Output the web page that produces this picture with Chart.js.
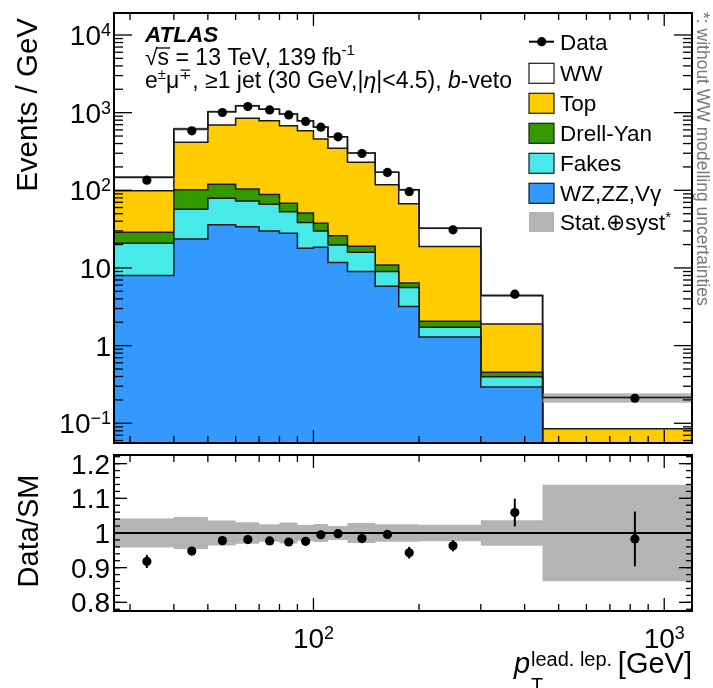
<!DOCTYPE html>
<html>
<head>
<meta charset="utf-8">
<script src="https://cdn.jsdelivr.net/npm/chart.js@4.4.1/dist/chart.umd.min.js"></script>
<style>
body { margin: 0; background: #fff; }
#wrap { position: relative; width: 713px; height: 688px; overflow: hidden; }
canvas { position: absolute; left: 0; }
#main { top: 0; }
#ratio { top: 450px; }
</style>
</head>
<body>
<div id="wrap">
<canvas id="main" width="713" height="450"></canvas>
<canvas id="ratio" width="713" height="238"></canvas>
</div>
<script>
// leading lepton pT bins [GeV]
var edges = [27, 40, 50, 60, 70, 80, 90, 100, 110, 125, 150, 175, 200, 300, 450, 1200];

// events / GeV, one entry per bin
var wzzzVg   = [8.0, 23.6, 36, 34, 30, 28, 18, 18.5, 11.8, 9.0, 5.8, 3.2, 1.29, 0.294, 0.02];
var fakes    = [12.8, 33.4, 43, 39, 36, 25, 20.5, 11.5, 8.0, 6.9, 3.2, 2.4, 0.44, 0.104, 0.01];
var drellYan = [8.0, 45, 41, 31, 22, 15, 12.5, 7.6, 6.2, 3.1, 1.9, 0.8, 0.33, 0.056, 0.005];
var topBkg   = [70, 313, 573, 742, 699, 610, 534, 420, 321, 210, 107, 60.6, 16.9, 1.45, 0.05];
var ww       = [48, 200, 335, 382, 323, 281, 202, 197, 143, 73, 53, 35, 13.4, 2.5, 0.129];
var dataEv   = [135, 583, 1005, 1200, 1085, 935, 770, 650, 488, 298, 170, 96, 31, 4.6, 0.21];

// stat+syst (no WW modelling), relative
var uncRel = [0.042, 0.046, 0.036, 0.031, 0.025, 0.03, 0.023, 0.026, 0.02, 0.029, 0.025, 0.025, 0.024, 0.037, 0.139];

// ratio panel
var ratio    = [0.918, 0.948, 0.978, 0.981, 0.977, 0.974, 0.976, 0.995, 0.998, 0.984, 0.996, 0.943, 0.963, 1.059, 0.983];
var ratioErr = [0.019, 0.008, 0.006, 0.006, 0.006, 0.006, 0.007, 0.007, 0.008, 0.009, 0.011, 0.017, 0.016, 0.04, 0.079];

// tick labels
var yTickVals = [10000, 1000, 100, 10, 1, 0.1];
var yTickBase = ['10', '10', '10', '10', '1', '10'];
var yTickSup  = ['4', '3', '2', '', '', '\u22121'];
var rTickVals = [1.2, 1.1, 1, 0.9, 0.8];
var rTickText = ['1.2', '1.1', '1', '0.9', '0.8'];
var xTickVals = [100, 1000];
var xTickSup  = ['2', '3'];
var xMinorVals = [30, 40, 50, 60, 70, 80, 90, 200, 300, 400, 500, 600, 700, 800, 900];

var cYellow = '#ffcc00', cGreen = '#339900', cCyan = '#48e9e9', cBlue = '#3399ff';
var FONT = '"Liberation Sans", Arial, Helvetica, sans-serif';
function font(size, style) { return (style || '') + ' ' + size + 'px ' + FONT; }

function addLists(a, b) { return a.map(function (v, i) { return v + b[i]; }); }
var sBlue = wzzzVg.slice();
var sCyan = addLists(sBlue, fakes);
var sGreen = addLists(sCyan, drellYan);
var sYellow = addLists(sGreen, topBkg);
var sTotal = addLists(sYellow, ww);

function hist(vals) {
  var pts = vals.map(function (v, i) { return { x: edges[i], y: v }; });
  pts.push({ x: edges[edges.length - 1], y: vals[vals.length - 1] });
  return pts;
}
function centers(vals) {
  return vals.map(function (v, i) { return { x: (edges[i] + edges[i + 1]) / 2, y: v }; });
}

function stackSet(vals, color, order) {
  return { data: hist(vals), stepped: true, fill: 'start', backgroundColor: color,
           borderColor: '#1a1a1a', borderWidth: 1.5, pointRadius: 0, order: order };
}

function drawPieces(ctx, x, y, pieces) {
  pieces.forEach(function (p) {
    ctx.font = font(p.size, p.style);
    ctx.fillText(p.t, x, y - (p.dy || 0));
    x += ctx.measureText(p.t).width;
  });
  return x;
}
function piecesWidth(ctx, pieces) {
  var w = 0;
  pieces.forEach(function (p) { ctx.font = font(p.size, p.style); w += ctx.measureText(p.t).width; });
  return w;
}
function seg(ctx, x1, y1, x2, y2) { ctx.beginPath(); ctx.moveTo(x1, y1); ctx.lineTo(x2, y2); ctx.stroke(); }

// ROOT style frame with inward ticks
function frameTicks(chart, yMajor, yMinor, lens) {
  var ctx = chart.ctx, a = chart.chartArea, sx = chart.scales.x, sy = chart.scales.y;
  ctx.save();
  ctx.strokeStyle = '#000';
  ctx.lineWidth = 1.3;
  xMinorVals.forEach(function (v) {
    var p = sx.getPixelForValue(v);
    seg(ctx, p, a.bottom, p, a.bottom - lens.xMinor);
    seg(ctx, p, a.top, p, a.top + lens.xMinor);
  });
  xTickVals.forEach(function (v) {
    var p = sx.getPixelForValue(v);
    seg(ctx, p, a.bottom, p, a.bottom - lens.xMajor);
    seg(ctx, p, a.top, p, a.top + lens.xMajor);
  });
  yMinor.forEach(function (v) {
    var p = sy.getPixelForValue(v);
    if (p < a.top || p > a.bottom) return;
    seg(ctx, a.left, p, a.left + lens.yMinor, p);
    seg(ctx, a.right, p, a.right - lens.yMinor, p);
  });
  yMajor.forEach(function (v) {
    var p = sy.getPixelForValue(v);
    seg(ctx, a.left, p, a.left + lens.yMajor, p);
    seg(ctx, a.right, p, a.right - lens.yMajor, p);
  });
  ctx.lineWidth = 2;
  ctx.strokeRect(a.left, a.top, a.right - a.left, a.bottom - a.top);
  ctx.restore();
}

function errorBars(chart, vals, errs) {
  var ctx = chart.ctx, sx = chart.scales.x, sy = chart.scales.y, a = chart.chartArea;
  ctx.save();
  ctx.strokeStyle = '#000';
  ctx.lineWidth = 2;
  vals.forEach(function (v, i) {
    var x = sx.getPixelForValue((edges[i] + edges[i + 1]) / 2);
    var y1 = Math.min(sy.getPixelForValue(v - errs[i]), a.bottom);
    var y2 = Math.max(sy.getPixelForValue(v + errs[i]), a.top);
    seg(ctx, x, y1, x, y2);
  });
  ctx.restore();
}

// minor ticks for the log axis
var yLogMinor = [];
[0.01, 0.1, 1, 10, 100, 1000, 10000].forEach(function (d) {
  for (var m = 2; m <= 9; m++) yLogMinor.push(m * d);
});
var rMinor = [];
for (var k = 0; k <= 24; k++) rMinor.push(0.76 + k * 0.02);

var dataErrAbs = dataEv.map(function (v, i) { return v * ratioErr[i] / ratio[i]; });

var mainDecor = {
  id: 'mainDecor',
  afterDatasetsDraw: function (chart) {
    errorBars(chart, dataEv, dataErrAbs);
  },
  afterDraw: function (chart) {
    var ctx = chart.ctx, sy = chart.scales.y;
    frameTicks(chart, yTickVals, yLogMinor, { xMinor: 7, xMajor: 13, yMinor: 9, yMajor: 18 });
    ctx.save();
    ctx.fillStyle = '#000';
    ctx.textAlign = 'left';
    ctx.textBaseline = 'alphabetic';
    // y tick labels
    yTickVals.forEach(function (v, i) {
      var p = sy.getPixelForValue(v);
      var pieces = [{ t: yTickBase[i], size: 28 }];
      if (yTickSup[i]) pieces.push({ t: yTickSup[i], size: 18, dy: 9 });
      var w = piecesWidth(ctx, pieces);
      drawPieces(ctx, 111 - w, p + 10, pieces);
    });
    // y title
    ctx.save();
    ctx.translate(37, 18);
    ctx.rotate(-Math.PI / 2);
    ctx.textAlign = 'right';
    ctx.font = font(29.5);
    ctx.fillText('Events / GeV', 0, 0);
    ctx.restore();
    // labels
    ctx.font = font(22.5, 'italic bold');
    ctx.fillText('ATLAS', 145, 42);
    var x = drawPieces(ctx, 145, 65, [{ t: '\u221a', size: 23 }]);
    ctx.font = font(23);
    var sw = ctx.measureText('s').width;
    ctx.lineWidth = 1.3;
    seg(ctx, x - 1, 48, x + sw + 1, 48);
    drawPieces(ctx, x, 65, [
      { t: 's = 13 TeV, 139 fb', size: 23 },
      { t: '-1', size: 15, dy: 10 }
    ]);
    drawPieces(ctx, 145, 88, [
      { t: 'e', size: 23 }, { t: '\u00b1', size: 15, dy: 9 },
      { t: '\u03bc', size: 23 }, { t: '\u2213', size: 15, dy: 9 },
      { t: ', \u22651 jet (30 GeV,|', size: 23 },
      { t: '\u03b7', size: 23, style: 'italic' },
      { t: '|<4.5), ', size: 23 },
      { t: 'b', size: 23, style: 'italic' },
      { t: '-veto', size: 23 }
    ]);
    // legend
    var rows = [
      { t: 'Data', y: 41.7 },
      { t: 'WW', y: 73.3, c: '#ffffff' },
      { t: 'Top', y: 103.3, c: cYellow },
      { t: 'Drell-Yan', y: 133.3, c: cGreen },
      { t: 'Fakes', y: 163.3, c: cCyan },
      { t: 'WZ,ZZ,V\u03b3', y: 193.3, c: cBlue },
      { t: 'Stat.\u2295syst', y: 222, c: '#b4b4b4', sup: '*' }
    ];
    rows.forEach(function (r, i) {
      if (i === 0) {
        ctx.lineWidth = 2;
        seg(ctx, 529, r.y, 554, r.y);
        ctx.beginPath();
        ctx.arc(541.7, r.y, 4.6, 0, Math.PI * 2);
        ctx.fill();
      } else {
        ctx.fillStyle = r.c;
        ctx.fillRect(529, r.y - 10, 25, 20);
        if (!r.sup) {
          ctx.strokeStyle = '#1a1a1a';
          ctx.lineWidth = 1.2;
          ctx.strokeRect(529, r.y - 10, 25, 20);
        }
        ctx.fillStyle = '#000';
      }
      var pcs = [{ t: r.t, size: 22.5 }];
      if (r.sup) pcs.push({ t: r.sup, size: 15, dy: 8 });
      drawPieces(ctx, 560, r.y + 8, pcs);
    });
    // side note
    ctx.save();
    ctx.translate(697, 12);
    ctx.rotate(Math.PI / 2);
    ctx.fillStyle = '#7a7a7a';
    ctx.font = font(17.5);
    ctx.fillText('*: without WW modelling uncertainties', 0, 0);
    ctx.restore();
    ctx.restore();
  }
};

var ratioDecor = {
  id: 'ratioDecor',
  afterDatasetsDraw: function (chart) {
    errorBars(chart, ratio, ratioErr);
  },
  afterDraw: function (chart) {
    var ctx = chart.ctx, sy = chart.scales.y, sx = chart.scales.x;
    frameTicks(chart, rTickVals, rMinor, { xMinor: 7, xMajor: 13, yMinor: 6, yMajor: 13 });
    ctx.save();
    ctx.fillStyle = '#000';
    ctx.textBaseline = 'alphabetic';
    ctx.textAlign = 'left';
    rTickVals.forEach(function (v, i) {
      var p = sy.getPixelForValue(v);
      var pieces = [{ t: rTickText[i], size: 28 }];
      drawPieces(ctx, 110 - piecesWidth(ctx, pieces), p + 10, pieces);
    });
    xTickVals.forEach(function (v, i) {
      var p = sx.getPixelForValue(v);
      var pieces = [{ t: '10', size: 28 }, { t: xTickSup[i], size: 18, dy: 9 }];
      drawPieces(ctx, p - piecesWidth(ctx, pieces) / 2, 198, pieces);
    });
    ctx.save();
    ctx.translate(38, 81);
    ctx.rotate(-Math.PI / 2);
    ctx.textAlign = 'center';
    ctx.font = font(29);
    ctx.fillText('Data/SM', 0, 0);
    ctx.restore();
    // x title
    drawPieces(ctx, 514, 223, [{ t: 'p', size: 29, style: 'italic' }]);
    drawPieces(ctx, 531, 216, [{ t: 'lead. lep.', size: 20 }]);
    drawPieces(ctx, 531, 242, [{ t: 'T', size: 20 }]);
    ctx.textAlign = 'right';
    ctx.font = font(29);
    ctx.fillText('[GeV]', 692, 223);
    ctx.restore();
  }
};

var bandUp = sTotal.map(function (v, i) { return v * (1 + uncRel[i]); });
var bandDn = sTotal.map(function (v, i) { return v * (1 - uncRel[i]); });

new Chart(document.getElementById('main'), {
  type: 'line',
  data: {
    datasets: [
      { data: centers(dataEv), showLine: false, pointRadius: 4.6, pointBackgroundColor: '#000',
        pointBorderWidth: 0, order: 0 },
      { data: hist(sTotal), stepped: true, fill: false, borderColor: '#1a1a1a', borderWidth: 1.5,
        pointRadius: 0, order: 1 },
      { data: hist(bandUp), stepped: true, fill: '+1', backgroundColor: 'rgba(160,160,160,0.75)',
        borderWidth: 0, pointRadius: 0, order: 2 },
      { data: hist(bandDn), stepped: true, fill: false, borderWidth: 0, pointRadius: 0, order: 3 },
      stackSet(sBlue, cBlue, 4),
      stackSet(sCyan, cCyan, 5),
      stackSet(sGreen, cGreen, 6),
      stackSet(sYellow, cYellow, 7),
      stackSet(sTotal, '#ffffff', 8)
    ]
  },
  options: {
    responsive: false, animation: false, devicePixelRatio: 1, events: [],
    layout: { padding: { left: 114, right: 21, top: 13, bottom: 7 } },
    plugins: { legend: { display: false }, tooltip: { enabled: false } },
    scales: {
      x: { type: 'logarithmic', min: 27, max: 1200, display: false },
      y: { type: 'logarithmic', min: 0.0557, max: 19200, display: false }
    }
  },
  plugins: [mainDecor]
});

var rUp = uncRel.map(function (u) { return 1 + u; });
var rDn = uncRel.map(function (u) { return 1 - u; });

new Chart(document.getElementById('ratio'), {
  type: 'line',
  data: {
    datasets: [
      { data: centers(ratio), showLine: false, pointRadius: 4.6, pointBackgroundColor: '#000',
        pointBorderWidth: 0, order: 0 },
      { data: [{ x: 27, y: 1 }, { x: 1200, y: 1 }], borderColor: '#000', borderWidth: 2,
        pointRadius: 0, fill: false, order: 1 },
      { data: hist(rUp), stepped: true, fill: '+1', backgroundColor: '#b4b4b4', borderWidth: 0,
        pointRadius: 0, order: 2 },
      { data: hist(rDn), stepped: true, fill: false, borderWidth: 0, pointRadius: 0, order: 3 }
    ]
  },
  options: {
    responsive: false, animation: false, devicePixelRatio: 1, events: [],
    layout: { padding: { left: 114, right: 21, top: 5, bottom: 77 } },
    plugins: { legend: { display: false }, tooltip: { enabled: false } },
    scales: {
      x: { type: 'logarithmic', min: 27, max: 1200, display: false },
      y: { type: 'linear', min: 0.775, max: 1.225, display: false }
    }
  },
  plugins: [ratioDecor]
});
</script>
</body>
</html>
